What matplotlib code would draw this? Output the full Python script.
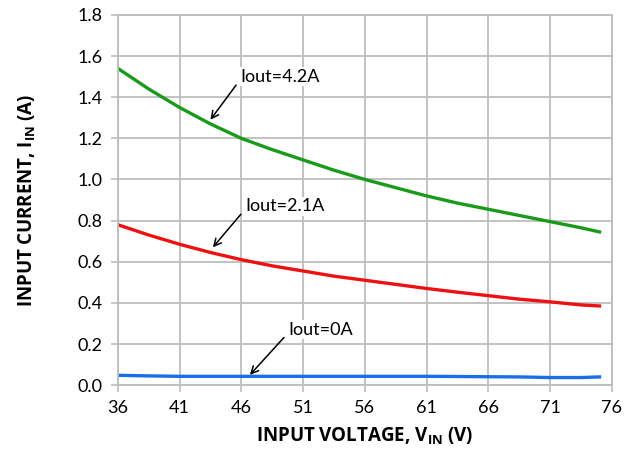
import matplotlib

matplotlib.use("Agg")
import matplotlib.pyplot as plt

# Datos
vin = [36, 38.5, 41, 43.5, 46, 48.5, 51, 53.5, 56, 58.5, 61, 63.5, 66, 68.5, 71, 73.5, 75]
iin_42 = [1.54, 1.44, 1.35, 1.27, 1.20, 1.145, 1.095, 1.045, 1.00, 0.96, 0.92, 0.885,
          0.855, 0.825, 0.795, 0.765, 0.745]
iin_21 = [0.78, 0.73, 0.685, 0.645, 0.61, 0.58, 0.555, 0.53, 0.51, 0.49, 0.47, 0.452,
          0.435, 0.418, 0.405, 0.39, 0.385]
iin_0 = [0.048, 0.045, 0.043, 0.043, 0.043, 0.043, 0.043, 0.043, 0.043, 0.043, 0.043,
         0.042, 0.041, 0.040, 0.037, 0.037, 0.040]

x_ticks = [36, 41, 46, 51, 56, 61, 66, 71, 76]
y_ticks = [0.0, 0.2, 0.4, 0.6, 0.8, 1.0, 1.2, 1.4, 1.6, 1.8]

VERDE = "#1a9a1a"
ROJO = "#ee1111"
AZUL = "#1a6fe8"
GRIS = "#bdbdbd"

plt.rcParams["font.family"] = ["Lato", "DejaVu Sans"]

fig = plt.figure(figsize=(6.4, 4.51), dpi=100)
ax = fig.add_axes([0.184, 0.146, 0.772, 0.821])

ax.plot(vin, iin_42, color=VERDE, lw=2.4)
ax.plot(vin, iin_21, color=ROJO, lw=2.4)
ax.plot(vin, iin_0, color=AZUL, lw=2.4)

ax.set_xlim(36, 76)
ax.set_ylim(0, 1.8)
ax.set_xticks(x_ticks)
ax.set_yticks(y_ticks)
ax.set_yticklabels([f"{v:.1f}" for v in y_ticks])
ax.tick_params(labelsize=13, color=GRIS, length=5, width=1.2, pad=6)
ax.grid(True, color=GRIS, lw=1.3)
for lado, spine in ax.spines.items():
    spine.set_color(GRIS)
    spine.set_linewidth(1.3)

ax.set_xlabel("INPUT VOLTAGE, V$_{\\mathregular{IN}}$ (V)", fontsize=13.5,
              fontweight="bold", family=["Open Sans", "DejaVu Sans"], labelpad=7)
ax.set_ylabel("INPUT CURRENT, I$_{\\mathregular{IN}}$ (A)", fontsize=13.5,
              fontweight="bold", family=["Open Sans", "DejaVu Sans"], labelpad=28)

flecha = dict(arrowstyle="->", color="black", lw=1.1, shrinkA=3, shrinkB=0,
              relpos=(0, 0.3))
ax.annotate("Iout=4.2A", xy=(43.5, 1.29), xytext=(45.9, 1.50), fontsize=13,
            va="center", ha="left", arrowprops=flecha,
            bbox=dict(fc="white", ec="none", pad=1))
ax.annotate("Iout=2.1A", xy=(43.7, 0.67), xytext=(46.3, 0.87), fontsize=13,
            va="center", ha="left", arrowprops=flecha,
            bbox=dict(fc="white", ec="none", pad=1))
ax.annotate("Iout=0A", xy=(46.7, 0.05), xytext=(49.8, 0.27), fontsize=13,
            va="center", ha="left", arrowprops=flecha,
            bbox=dict(fc="white", ec="none", pad=1))

fig.savefig("out.png", dpi=100)
plt.close(fig)
